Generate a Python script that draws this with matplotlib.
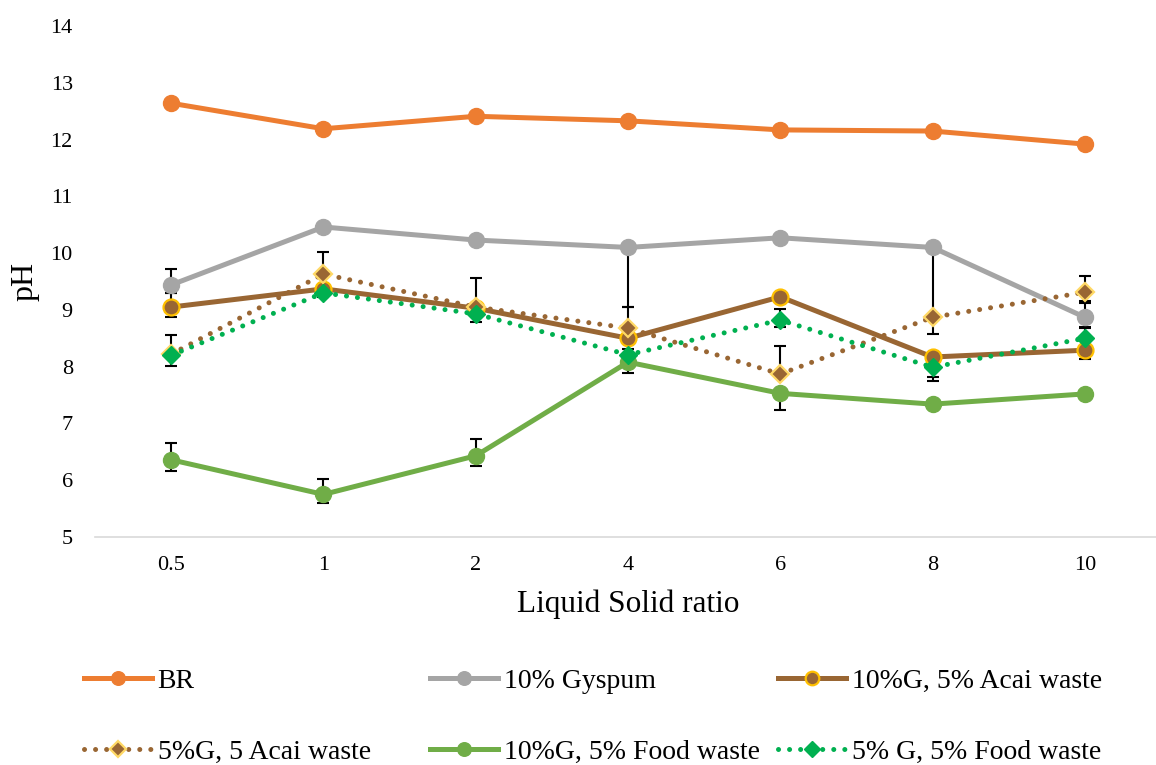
import numpy as np
import matplotlib
matplotlib.use('Agg')
import matplotlib.pyplot as plt

plt.rcParams['font.family'] = ['Liberation Serif', 'DejaVu Serif']

ratios = ['0.5', '1', '2', '4', '6', '8', '10']

br = [12.64, 12.19, 12.41, 12.33, 12.17, 12.15, 11.92]
gypsum = [9.44, 10.46, 10.23, 10.10, 10.27, 10.10, 8.87]
acai10 = [9.05, 9.37, 9.03, 8.50, 9.23, 8.17, 8.29]
acai5 = [8.22, 9.63, 9.05, 8.68, 7.87, 8.87, 9.31]
food10 = [6.36, 5.75, 6.43, 8.08, 7.53, 7.34, 7.52]
food5 = [8.20, 9.30, 8.93, 8.21, 8.82, 7.99, 8.50]

# error bars (lower, upper)
gypsum_err = ([0.14, 0, 0.04, 1.05, 0.04, 1.53, 0.17],
              [0.28, 0, 0.04, 0, 0.04, 0, 0.25])
acai10_err = ([0.17, 0, 0, 0, 0, 0.35, 0.16],
              [0.25, 0, 0, 0, 0, 0, 0])
acai5_err = ([0, 0.40, 0.26, 0.37, 0, 0, 0.15],
             [0, 0.39, 0.52, 0.37, 0.49, 0, 0.29])
food10_err = ([0.20, 0.15, 0.18, 0.19, 0.29, 0, 0],
              [0.30, 0.27, 0.30, 0, 0, 0, 0])
food5_err = ([0.19, 0, 0, 0, 0.12, 0.24, 0],
             [0.35, 0, 0, 0, 0.20, 0, 0.18])

fig = plt.figure(figsize=(11.56, 7.65), dpi=100)
ax = fig.add_axes([95 / 1156, 1 - 537 / 765, 1066 / 1156, 511 / 765])
x = np.arange(len(ratios))


def draw_err(vals, err):
    lo, hi = np.array(err[0]), np.array(err[1])
    keep = (lo > 0) | (hi > 0)
    ax.errorbar(x[keep], np.array(vals)[keep], yerr=[lo[keep], hi[keep]],
                fmt='none', ecolor='black', elinewidth=1.5, capsize=4,
                capthick=1.5, zorder=1.5)


for vals, err in [(gypsum, gypsum_err), (acai10, acai10_err), (acai5, acai5_err),
                  (food10, food10_err), (food5, food5_err)]:
    draw_err(vals, err)

lw = 3.6
dots = (0, (0.01, 2.2))
l_br, = ax.plot(x, br, color='#ED7D31', lw=lw, marker='o', ms=11.5, label='BR', zorder=3)
l_gy, = ax.plot(x, gypsum, color='#A5A5A5', lw=lw, marker='o', ms=11.5,
                label='10% Gyspum', zorder=3)
l_a10, = ax.plot(x, acai10, color='#996633', lw=lw, marker='o', ms=11.5,
                 mec='#FFC000', mew=1.6, label='10%G, 5% Acai waste', zorder=3)
l_a5, = ax.plot(x, acai5, color='#996633', lw=lw, ls=dots, dash_capstyle='round',
                marker='D', ms=9, mec='#FFD966', mew=1.6,
                label='5%G, 5 Acai waste', zorder=3)
l_f10, = ax.plot(x, food10, color='#70AD47', lw=lw, marker='o', ms=11.5,
                 label='10%G, 5% Food waste', zorder=3)
l_f5, = ax.plot(x, food5, color='#00B050', lw=lw, ls=dots, dash_capstyle='round',
                marker='D', ms=9.5, label='5% G, 5% Food waste', zorder=3.2)

ax.set_xlim(-0.5, len(ratios) - 0.5)
ax.set_ylim(5, 14)
ax.set_xticks(x)
ax.set_xticklabels(ratios)
ax.set_yticks(range(5, 15))
ax.tick_params(axis='both', length=0, labelsize=16)
ax.tick_params(axis='x', pad=14)
ax.tick_params(axis='y', pad=16)
for s in ['top', 'right', 'left']:
    ax.spines[s].set_visible(False)
ax.spines['bottom'].set_color('#D9D9D9')
ax.spines['bottom'].set_linewidth(1.2)

ax.set_xlabel('Liquid Solid ratio', fontsize=22.5, labelpad=10)
ax.set_ylabel('pH', fontsize=23, labelpad=8)

# legend, one column at a time so the columns sit where they do in the original
columns = [([l_br, l_a5], 84), ([l_gy, l_f10], 430), ([l_a10, l_f5], 778)]
for hs, px in columns:
    fig.legend(handles=hs, labels=[h.get_label() for h in hs],
               loc='center left', bbox_to_anchor=(px / 1156, 1 - 716.5 / 765),
               frameon=False, fontsize=20, handlelength=2.45, markerscale=0.85,
               labelspacing=1.62, handletextpad=0.2, borderpad=0,
               borderaxespad=0)

plt.savefig('out.png', dpi=100)
